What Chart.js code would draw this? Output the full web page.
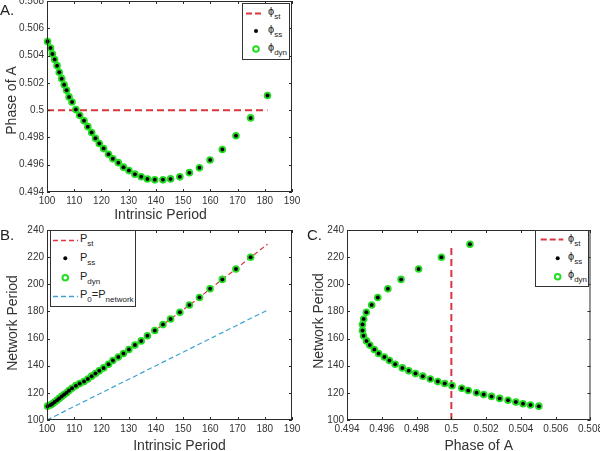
<!DOCTYPE html>
<html>
<head>
<meta charset="utf-8">
<script src="https://cdn.jsdelivr.net/npm/chart.js@4.4.0/dist/chart.umd.min.js"></script>
<style>
  html, body { margin: 0; padding: 0; background: #fff; }
  body { position: relative; width: 600px; height: 451px; overflow: hidden; font-family: "Liberation Sans", Arial, sans-serif; }
  canvas, svg, .letter { position: absolute; }
  .letter { font-size: 15px; line-height: 15px; color: #222; }
  svg text { font-family: "Liberation Sans", Arial, sans-serif; fill: #222; }
</style>
</head>
<body>
<canvas id="chartA" width="306" height="232" style="left:0px;top:-8px"></canvas>
<canvas id="chartB" width="306" height="231" style="left:0px;top:221px"></canvas>
<canvas id="chartC" width="306" height="231" style="left:300px;top:221px"></canvas>

<div class="letter" style="left:0px;top:2px">A.</div>
<div class="letter" style="left:0px;top:227px">B.</div>
<div class="letter" style="left:307px;top:227px">C.</div>

<!-- legend A -->
<svg width="48" height="57" style="left:242px;top:3px">
  <rect x="0.5" y="0.5" width="47" height="56" fill="#fff" stroke="#333"/>
  <line x1="4" y1="10.5" x2="21" y2="10.5" stroke="#d9363e" stroke-width="2" stroke-dasharray="6,3"/>
  <text x="26" y="12" font-size="11">ϕ<tspan dy="3.5" font-size="8">st</tspan></text>
  <circle cx="14" cy="28" r="2" fill="#000"/>
  <text x="26" y="30" font-size="11">ϕ<tspan dy="3.5" font-size="8">ss</tspan></text>
  <circle cx="14" cy="46" r="2.8" fill="none" stroke="#22dd22" stroke-width="2"/>
  <text x="26" y="48" font-size="11">ϕ<tspan dy="3.5" font-size="8">dyn</tspan></text>
</svg>

<!-- legend B -->
<svg width="87" height="78" style="left:50px;top:230px">
  <rect x="0.5" y="0.5" width="85" height="76" fill="#fff" stroke="#333"/>
  <line x1="3" y1="10.5" x2="28" y2="10.5" stroke="#d9363e" stroke-width="1.4" stroke-dasharray="5,3"/>
  <text x="30" y="12" font-size="11">P<tspan dy="4" font-size="8">st</tspan></text>
  <circle cx="15.3" cy="28.3" r="2" fill="#000"/>
  <text x="30" y="30.5" font-size="11">P<tspan dy="4" font-size="8">ss</tspan></text>
  <circle cx="15.3" cy="47.7" r="2.8" fill="none" stroke="#22dd22" stroke-width="2"/>
  <text x="30" y="50" font-size="11">P<tspan dy="4" font-size="8">dyn</tspan></text>
  <line x1="3" y1="66.5" x2="28" y2="66.5" stroke="#3ba3d0" stroke-width="1.4" stroke-dasharray="5,3"/>
  <text x="30" y="68" font-size="11">P<tspan dy="4" font-size="8">0</tspan><tspan dy="-4" font-size="11">=P</tspan><tspan dy="4" font-size="8">network</tspan></text>
</svg>

<!-- legend C -->
<svg width="55" height="57" style="left:535px;top:230px">
  <rect x="0.5" y="0.5" width="53" height="56" fill="#fff" stroke="#333"/>
  <line x1="5.7" y1="9.5" x2="28.3" y2="9.5" stroke="#d9363e" stroke-width="2" stroke-dasharray="6,3"/>
  <text x="33" y="12" font-size="11">ϕ<tspan dy="3.5" font-size="8">st</tspan></text>
  <circle cx="22.7" cy="28.3" r="2" fill="#000"/>
  <text x="33" y="30" font-size="11">ϕ<tspan dy="3.5" font-size="8">ss</tspan></text>
  <circle cx="22.7" cy="46.7" r="2.8" fill="none" stroke="#22dd22" stroke-width="2"/>
  <text x="33" y="48" font-size="11">ϕ<tspan dy="3.5" font-size="8">dyn</tspan></text>
</svg>

<script>
// values, one entry per simulated intrinsic period
const intrinsicPeriod = [100.2, 101.3, 102.0, 102.8, 103.7, 104.5, 105.4, 106.3, 107.2, 108.1,
  109.2, 110.6, 112.0, 113.6, 115.0, 116.4, 117.8, 119.2, 120.8, 122.6,
  124.2, 126.2, 128.1, 130.1, 132.3, 134.6, 136.9, 139.6, 142.6, 145.4,
  148.8, 152.3, 156.0, 159.9, 164.4, 169.4, 174.8, 181.0];
const phaseOfA = [0.50503, 0.50455, 0.50412, 0.50371, 0.50326, 0.50278, 0.50231, 0.50186, 0.50145, 0.50097,
  0.50060, 0.50004, 0.49962, 0.49922, 0.49879, 0.49836, 0.49794, 0.49755, 0.49718, 0.49677,
  0.49644, 0.49615, 0.49582, 0.49557, 0.49531, 0.49512, 0.49495, 0.49489, 0.49489, 0.49496,
  0.49511, 0.49542, 0.49577, 0.49635, 0.49711, 0.49812, 0.49943, 0.50107];
const networkPeriod = [110.2, 111.0, 112.0, 113.2, 114.6, 115.9, 117.4, 118.8, 120.1, 121.7,
  123.4, 125.3, 126.9, 128.3, 130.2, 132.3, 134.2, 136.2, 138.4, 141.1,
  143.8, 146.4, 149.0, 152.0, 155.2, 158.3, 162.1, 166.0, 170.3, 174.4,
  179.4, 184.7, 190.3, 196.7, 203.6, 211.3, 219.9, 229.5];

const phiSt = 0.5;
const stPeriodRange = [100, 181];
const stNetworkRange = [100, 229];
const identityRange = [100, 181];
const markersInB = 37; // last point is not marked in panel B

const periodTicks = [100, 110, 120, 130, 140, 150, 160, 170, 180, 190];
const phaseTicks = [0.494, 0.496, 0.498, 0.5, 0.502, 0.504, 0.506, 0.508];
const networkTicks = [100, 120, 140, 160, 180, 200, 220, 240];

const RED = '#d9363e', GREEN = '#22dd22', BLUE = '#3ba3d0';

Chart.defaults.font.family = '"Liberation Sans", Arial, sans-serif';
Chart.defaults.color = '#333';

const pts = (xs, ys) => xs.map((x, i) => ({ x: x, y: ys[i] }));

// matlab-like box with inward ticks and hand placed axis titles
const frame = {
  id: 'frame',
  afterDraw(chart, args, o) {
    const { ctx, chartArea: a } = chart;
    const x = chart.scales.x, y = chart.scales.y;
    ctx.save();
    ctx.strokeStyle = '#2b2b2b';
    ctx.lineWidth = 1;
    ctx.strokeRect(a.left + 0.5, a.top + 0.5, a.width - 1, a.height - 1);
    ctx.beginPath();
    x.ticks.forEach(t => {
      const px = Math.round(x.getPixelForValue(t.value)) + 0.5;
      ctx.moveTo(px, a.bottom); ctx.lineTo(px, a.bottom - 3);
      ctx.moveTo(px, a.top); ctx.lineTo(px, a.top + 3);
    });
    y.ticks.forEach(t => {
      const py = Math.round(y.getPixelForValue(t.value)) + 0.5;
      ctx.moveTo(a.left, py); ctx.lineTo(a.left + 3, py);
      ctx.moveTo(a.right, py); ctx.lineTo(a.right - 3, py);
    });
    ctx.stroke();
    ctx.fillStyle = '#333';
    ctx.font = '14px "Liberation Sans", Arial, sans-serif';
    ctx.textAlign = 'center';
    ctx.textBaseline = 'alphabetic';
    ctx.fillText(o.xTitle, (a.left + a.right) / 2 + o.xShift, a.bottom + o.xDrop);
    ctx.translate(a.left - o.yGap, (a.top + a.bottom) / 2 + o.yShift);
    ctx.rotate(-Math.PI / 2);
    ctx.textBaseline = 'middle';
    ctx.fillText(o.yTitle, 0, 0);
    ctx.restore();
  }
};

function axis(min, max, ticks, isX) {
  return {
    type: 'linear', min: min, max: max,
    afterBuildTicks: s => { s.ticks = ticks.map(v => ({ value: v })); },
    afterFit: s => { if (isX) s.height = 32; else s.width = 47; },
    grid: { display: false, drawTicks: false },
    border: { display: false },
    ticks: { padding: 3, autoSkip: false, maxRotation: 0, font: { size: 10 }, callback: v => String(v) }
  };
}

function markers(data) {
  return [
    { data: data, pointRadius: 2, pointBackgroundColor: '#000', pointBorderWidth: 0, showLine: false, clip: false, order: 0 },
    { data: data, pointRadius: 2.8, pointBackgroundColor: 'rgba(0,0,0,0)', pointBorderColor: GREEN, pointBorderWidth: 2, showLine: false, clip: false, order: 1 }
  ];
}

function dashed(data, color, width, dash) {
  return { data: data, showLine: true, borderColor: color, borderWidth: width, borderDash: dash, pointRadius: 0, fill: false, order: 2 };
}

function makeChart(id, datasets, scales, titles) {
  return new Chart(document.getElementById(id), {
    type: 'scatter',
    data: { datasets: datasets },
    options: {
      responsive: false,
      maintainAspectRatio: false,
      animation: false,
      events: [],
      layout: { padding: { left: 0, right: 14, top: 8, bottom: 0 } },
      scales: scales,
      plugins: { legend: { display: false }, tooltip: { enabled: false }, frame: titles }
    },
    plugins: [frame]
  });
}

// A: phase vs intrinsic period
makeChart('chartA',
  [dashed(stPeriodRange.map(p => ({ x: p, y: phiSt })), RED, 2, [7, 4])]
    .concat(markers(pts(intrinsicPeriod, phaseOfA))),
  { x: axis(100, 190, periodTicks, true), y: axis(0.494, 0.508, phaseTicks, false) },
  { xTitle: 'Intrinsic Period', yTitle: 'Phase of A', xShift: -9, xDrop: 27, yGap: 35, yShift: 4 });

// B: network period vs intrinsic period
makeChart('chartB',
  [dashed(pts(intrinsicPeriod, networkPeriod), RED, 1.2, [5, 3]),
   dashed(pts(identityRange, identityRange), BLUE, 1.2, [5, 3])]
    .concat(markers(pts(intrinsicPeriod.slice(0, markersInB), networkPeriod.slice(0, markersInB)))),
  { x: axis(100, 190, periodTicks, true), y: axis(100, 240, networkTicks, false) },
  { xTitle: 'Intrinsic Period', yTitle: 'Network Period', xShift: 10, xDrop: 30, yGap: 34, yShift: -2 });

// C: network period vs phase
makeChart('chartC',
  [dashed(stNetworkRange.map(p => ({ x: phiSt, y: p })), RED, 2, [7, 4])]
    .concat(markers(pts(phaseOfA, networkPeriod))),
  { x: axis(0.494, 0.508, phaseTicks, true), y: axis(100, 240, networkTicks, false) },
  { xTitle: 'Phase of A', yTitle: 'Network Period', xShift: 10, xDrop: 30, yGap: 28, yShift: -4 });
</script>
</body>
</html>
